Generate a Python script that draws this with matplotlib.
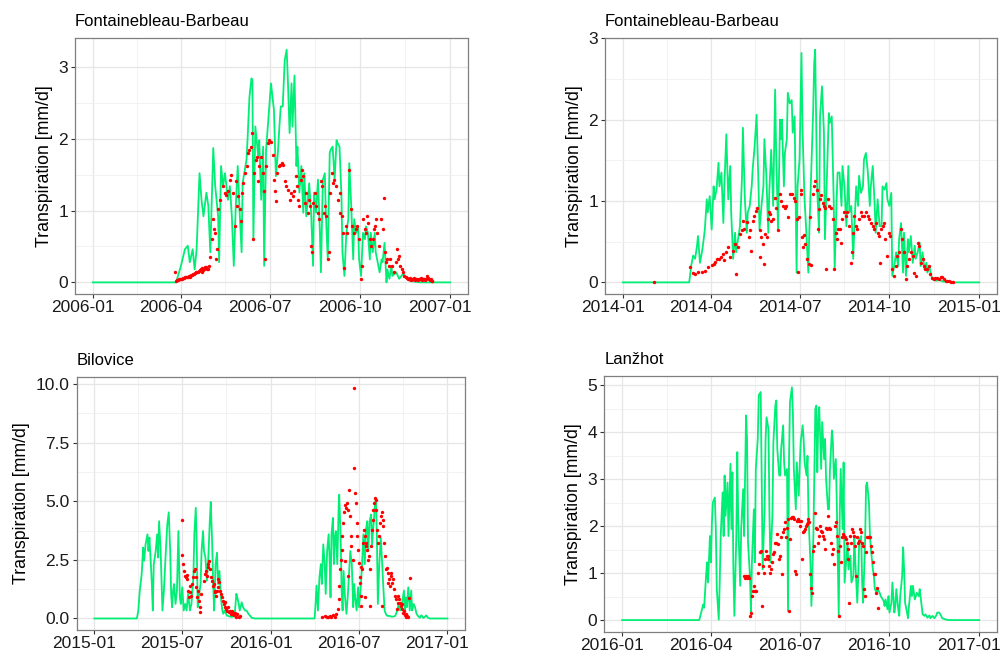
import matplotlib
matplotlib.use("Agg")
import matplotlib.pyplot as plt
import matplotlib.transforms as mtransforms
import pandas as pd

plt.rcParams['font.family'] = ['Liberation Sans', 'DejaVu Sans']

# ---------------- Panel 1: Fontainebleau-Barbeau 2006 ----------------
fb06_origin = "2006-01-01"
fb06_sim_day = [0, 85, 90, 94, 97, 99, 102, 104, 106, 109, 111, 113, 116, 118, 120, 123, 125, 128, 129, 131,
                133, 135, 138, 140, 142, 144, 146, 148, 150, 152, 153, 157, 158, 160, 162, 163, 164, 166, 169, 170,
                172, 174, 175, 177, 180, 182, 185, 187, 189, 191, 192, 194, 196, 198, 199, 201, 203, 204, 206, 208,
                209, 211, 213, 215, 216, 218, 220, 221, 223, 225, 226, 228, 230, 232, 233, 235, 237, 238, 240, 242,
                243, 245, 247, 249, 250, 252, 254, 255, 257, 259, 261, 262, 264, 266, 267, 269, 271, 272, 274, 276,
                278, 279, 281, 283, 284, 286, 288, 289, 291, 293, 295, 296, 298, 300, 301, 303, 305, 306, 310, 313,
                317, 320, 324, 329, 334, 365]
fb06_sim_val = [0, 0, 0.23, 0.46, 0.51, 0.28, 0.46, 0.18, 0.46, 1.52, 1.15, 0.92, 1.25, 1.06, 0.42, 1.87, 1.34, 0.92, 0.28, 1.62,
                1.34, 1.52, 1.15, 1.34, 0.92, 0.23, 1.06, 1.62, 0.97, 0.42, 1.38, 1.71, 1.98, 2.58, 2.84, 2.82, 0.6, 2.17, 1.75, 1.98,
                1.15, 1.89, 0.23, 1.85, 2.40, 2.77, 2.40, 1.48, 1.80, 2.26, 2.45, 2.45, 3.09, 3.24, 2.91, 2.08, 2.77, 2.17, 2.88, 1.62,
                1.89, 1.25, 1.62, 0.97, 1.52, 0.92, 1.20, 1.38, 0.97, 0.23, 1.25, 0.97, 1.43, 0.69, 0.14, 1.43, 1.52, 0.97, 0.32, 1.80,
                1.85, 1.89, 1.43, 1.98, 1.94, 1.89, 1.20, 0.42, 0.09, 0.69, 0.88, 1.66, 1.06, 0.32, 0.88, 0.69, 0.78, 0.32, 0.09, 0.69,
                0.60, 0.78, 0.69, 0.32, 0.69, 0.42, 0.69, 0.42, 0.28, 0.14, 0.32, 0.28, 0.55, 0.0, 0.18, 0.05, 0.23, 0.09, 0.14, 0.05,
                0.12, 0.07, 0.02, 0.01, 0.0, 0.0]
fb06_obs_day = [84, 85, 86, 87, 88, 89, 90, 91, 92, 93, 94, 95, 96, 97, 98, 99, 100, 101, 102, 103,
                104, 105, 106, 107, 108, 109, 110, 111, 112, 113, 114, 115, 116, 117, 118, 119,
                120, 122, 123, 124, 125, 126, 127, 128, 130, 133, 135, 136, 138, 140, 141, 143, 145, 146, 147, 148,
                150, 151, 152, 153, 155, 157, 158, 160, 162, 163, 164, 165, 167, 168, 169, 170, 172, 174, 175, 176,
                177, 179, 180, 182, 184, 185, 186, 187, 188, 190, 191, 193, 194, 196, 197, 199, 201, 202, 204, 206,
                208, 209, 210, 211, 213, 214, 215, 217, 218, 220, 221, 222, 223, 224, 225, 227, 228, 230, 231, 233,
                234, 236, 237, 238, 240, 241, 242, 244, 245, 246, 248, 250, 252, 253, 255, 256, 257, 259, 260, 262,
                264, 265, 267, 269, 270, 272, 274, 275, 276, 278, 279, 280, 281, 283, 284, 286, 287, 288, 289, 290,
                292, 294, 296, 297, 298, 299, 301, 303, 304, 306, 308, 310, 311, 312, 313, 314, 316, 317, 318, 320,
                321, 322, 323, 324, 325, 326, 327, 328, 329, 330, 331, 332, 333, 334, 335, 336, 337, 338, 339, 340,
                341, 342, 343, 344, 345, 346, 347]
fb06_obs_val = [0.15, 0.02, 0.03, 0.03, 0.04, 0.04, 0.05, 0.05, 0.06, 0.06, 0.07, 0.07, 0.08, 0.08, 0.09, 0.08, 0.10, 0.10, 0.11, 0.12,
                0.13, 0.14, 0.15, 0.14, 0.16, 0.17, 0.18, 0.15, 0.20, 0.17, 0.19, 0.21, 0.22, 0.19, 0.18, 0.23,
                0.35, 0.61, 0.88, 0.74, 0.69, 0.32, 0.46, 1.02, 1.15, 1.34, 1.25, 1.22, 1.27, 1.43, 1.50, 1.25, 0.78, 1.41, 1.06, 1.20,
                1.02, 0.85, 1.25, 1.39, 1.52, 1.62, 1.80, 1.85, 1.89, 2.08, 0.61, 1.52, 1.71, 1.75, 1.41, 1.62, 1.75, 1.52, 1.27, 0.32,
                1.62, 1.94, 1.98, 1.96, 1.78, 1.43, 1.27, 1.13, 1.52, 1.62, 1.64, 1.66, 1.64, 1.41, 1.34, 1.29, 1.15, 1.25, 1.20, 1.27,
                1.48, 1.34, 1.15, 1.06, 1.43, 1.57, 1.48, 1.11, 1.25, 0.97, 1.15, 1.06, 0.51, 0.42, 1.11, 1.25, 1.06, 0.97, 0.88, 1.41,
                1.34, 0.97, 1.06, 0.92, 0.32, 0.42, 1.25, 1.52, 1.38, 1.43, 1.34, 1.15, 1.25, 0.97, 0.92, 0.69, 0.20, 0.78, 0.69, 1.57,
                1.02, 0.78, 0.69, 0.74, 0.78, 0.60, 0.05, 0.23, 0.88, 0.74, 0.69, 0.92, 0.83, 0.60, 0.51, 0.60, 0.74, 0.78, 0.88, 0.69,
                0.51, 0.88, 0.74, 1.18, 0.42, 0.28, 0.32, 0.23, 0.32, 0.23, 0.14, 0.28, 0.46, 0.32, 0.37, 0.23, 0.18, 0.14, 0.09, 0.07,
                0.06, 0.05, 0.04, 0.06, 0.03, 0.05, 0.04, 0.06, 0.03, 0.05, 0.04, 0.03, 0.05, 0.04, 0.06, 0.03, 0.04, 0.05, 0.03, 0.04,
                0.09, 0.06, 0.04, 0.03, 0.05, 0.02, 0.02]
fb06_xticks = ["2006-01", "2006-04", "2006-07", "2006-10", "2007-01"]
fb06_yticks = [0, 1, 2, 3]
fb06_ylabels = ["0", "1", "2", "3"]

# ---------------- Panel 2: Fontainebleau-Barbeau 2014 ----------------
fb14_origin = "2014-01-01"
fb14_sim_day = [0, 68, 69, 70, 72, 74, 76, 77, 79, 81, 82, 84, 86, 87, 89, 91, 93, 94, 96, 98,
                99, 101, 103, 104, 106, 108, 110, 111, 113, 115, 116, 118, 120, 122, 123, 125, 127, 128, 130, 132,
                133, 135, 137, 139, 140, 142, 144, 145, 147, 149, 150, 152, 154, 156, 157, 159, 161, 162, 163, 165,
                166, 168, 169, 171, 173, 174, 176, 178, 179, 181, 183, 184, 186, 188, 190, 191, 193, 195, 196, 197,
                199, 201, 202, 204, 206, 207, 209, 211, 212, 214, 216, 217, 219, 220, 222, 224, 225, 227, 229, 231,
                232, 234, 236, 237, 239, 241, 242, 244, 246, 247, 249, 251, 253, 254, 256, 258, 259, 261, 263, 265,
                266, 268, 270, 271, 273, 275, 276, 278, 280, 282, 283, 285, 287, 288, 290, 292, 293, 295, 297, 299,
                300, 302, 304, 305, 307, 309, 311, 312, 314, 316, 317, 321, 324, 328, 333, 338, 365]
fb14_sim_val = [0, 0, 0.10, 0.20, 0.33, 0.29, 0.45, 0.57, 0.24, 0.37, 0.45, 0.65, 1.02, 0.86, 1.06, 0.65, 1.18, 1.02, 1.14, 1.47,
                1.18, 1.35, 0.73, 1.18, 1.82, 1.02, 1.43, 0.86, 0.29, 0.61, 0.37, 0.53, 0.69, 1.27, 1.90, 1.02, 0.61, 0.86, 0.94, 1.18,
                1.39, 1.67, 2.06, 1.18, 0.65, 0.94, 1.18, 1.76, 1.31, 0.61, 1.10, 1.63, 0.94, 2.37, 1.63, 0.65, 2.00, 1.76, 2.00, 1.18,
                1.59, 1.76, 2.33, 2.20, 2.24, 1.84, 2.04, 0.12, 1.18, 1.51, 2.82, 1.92, 1.06, 0.61, 0.12, 0.61, 1.35, 2.12, 2.69, 2.86,
                1.18, 0.61, 2.04, 2.41, 1.84, 0.53, 1.27, 2.08, 1.96, 2.04, 1.02, 0.16, 1.02, 1.35, 1.35, 0.94, 1.43, 1.18, 0.69, 1.43,
                0.86, 0.94, 0.29, 0.61, 1.18, 0.94, 1.31, 1.10, 1.18, 1.51, 1.59, 1.35, 0.94, 1.18, 1.43, 0.94, 0.61, 1.02, 0.69, 0.69,
                1.18, 1.14, 1.22, 1.02, 0.94, 1.10, 0.08, 0.20, 0.37, 0.20, 0.53, 0.73, 0.12, 0.61, 0.08, 0.53, 0.37, 0.57, 0.24, 0.45,
                0.29, 0.37, 0.49, 0.20, 0.37, 0.16, 0.24, 0.12, 0.20, 0.08, 0.04, 0.02, 0.03, 0.01, 0.01, 0, 0]
fb14_obs_day = [32, 69, 72, 74, 77, 81, 84, 87, 91, 93, 94, 96, 99, 101, 103, 104, 106, 108, 110, 113,
                115, 116, 118, 120, 122, 123, 124, 127, 129, 130, 131, 133, 134, 136, 137, 140, 141, 142, 144, 145,
                146, 148, 149, 150, 151, 152, 154, 156, 157, 159, 161, 162, 164, 166, 167, 169, 171, 173, 175, 176,
                178, 179, 180, 182, 183, 184, 185, 186, 187, 189, 191, 192, 193, 195, 196, 197, 199, 200, 201, 202,
                203, 205, 206, 207, 208, 210, 211, 213, 215, 216, 218, 219, 220, 222, 223, 225, 227, 229, 230, 232,
                234, 235, 236, 237, 239, 240, 242, 244, 245, 247, 249, 251, 252, 254, 256, 257, 259, 261, 262, 263,
                264, 266, 268, 269, 271, 273, 274, 276, 278, 280, 281, 283, 285, 286, 288, 290, 291, 293, 295, 297,
                298, 300, 302, 303, 305, 307, 308, 310, 312, 314, 315, 317, 319, 320, 322, 324, 326, 327, 329, 331,
                332, 334, 336, 338]
fb14_obs_val = [0.00, 0.19, 0.11, 0.10, 0.13, 0.13, 0.14, 0.19, 0.21, 0.23, 0.25, 0.29, 0.29, 0.31, 0.35, 0.27, 0.37, 0.43, 0.31, 0.39,
                0.47, 0.10, 0.43, 0.60, 0.64, 0.76, 0.66, 0.74, 0.56, 0.64, 0.39, 0.76, 0.82, 0.88, 0.92, 0.31, 0.64, 0.56, 0.47, 0.23,
                0.60, 0.56, 0.78, 0.86, 0.84, 0.76, 0.78, 1.04, 0.92, 0.64, 1.09, 1.00, 0.94, 0.92, 0.94, 0.80, 1.09, 1.09, 1.04, 1.00,
                0.78, 0.13, 0.80, 1.13, 1.09, 0.56, 0.43, 0.58, 0.47, 0.29, 0.23, 0.80, 0.21, 1.09, 1.19, 1.25, 1.14, 0.65, 0.90, 1.02,
                1.08, 0.98, 0.94, 0.92, 0.16, 1.02, 0.94, 0.92, 0.78, 0.16, 0.61, 0.53, 0.65, 0.65, 0.49, 0.78, 0.86, 0.82, 0.86, 0.69,
                0.24, 0.37, 0.61, 0.82, 0.69, 0.65, 0.78, 0.86, 0.82, 0.82, 0.86, 0.82, 0.78, 0.73, 0.69, 0.65, 0.73, 0.61, 0.57, 0.24,
                0.65, 0.69, 0.73, 0.53, 0.33, 0.61, 0.57, 0.16, 0.08, 0.20, 0.33, 0.37, 0.65, 0.53, 0.37, 0.04, 0.20, 0.29, 0.37, 0.33,
                0.12, 0.08, 0.49, 0.45, 0.24, 0.29, 0.20, 0.16, 0.16, 0.20, 0.10, 0.05, 0.04, 0.05, 0.05, 0.04, 0.06, 0.07, 0.04, 0.02,
                0.02, 0.02, 0.01, 0.01]
fb14_xticks = ["2014-01", "2014-04", "2014-07", "2014-10", "2015-01"]
fb14_yticks = [0, 1, 2, 3]
fb14_ylabels = ["0", "1", "2", "3"]

# ---------------- Panel 3: Bilovice 2015-2016 ----------------
bil_origin = "2015-01-01"
bil_sim_day = [0, 88, 91, 94, 98, 101, 103, 106, 110, 112, 114, 117, 119, 121, 123, 127, 130, 132, 134, 137,
               139, 141, 144, 148, 151, 154, 157, 159, 161, 163, 165, 168, 171, 174, 177, 179, 182, 185, 188, 191,
               194, 198, 201, 205, 207, 210, 212, 214, 217, 220, 222, 225, 227, 230, 233, 236, 239, 241, 244, 246,
               248, 251, 254, 256, 259, 262, 265, 267, 270, 274, 277, 281, 284, 287, 291, 294, 296, 299, 301, 305,
               308, 312, 315, 319, 322, 326, 332, 456, 458, 460, 463, 466, 469, 471, 474, 477, 479, 482, 485, 487,
               489, 491, 494, 496, 498, 500, 503, 506, 507, 510, 512, 514, 516, 519, 522, 525, 527, 530, 533, 536,
               538, 540, 543, 546, 548, 551, 554, 557, 560, 562, 565, 567, 570, 573, 575, 578, 581, 583, 585, 587,
               590, 593, 596, 598, 601, 604, 607, 611, 615, 619, 623, 627, 630, 633, 636, 639, 641, 643, 645, 647,
               650, 653, 656, 658, 661, 664, 667, 670, 674, 677, 681, 684, 687, 691, 694, 731]
bil_sim_val = [0, 0, 0.34, 1.19, 1.89, 3.02, 2.46, 3.16, 3.59, 2.88, 3.45, 2.32, 1.47, 0.34, 2.32, 2.88, 3.59, 2.60, 4.15, 3.02,
               1.75, 0.34, 1.19, 2.88, 4.01, 4.53, 2.88, 1.05, 0.48, 1.19, 1.47, 0.62, 1.19, 3.73, 0.90, 0.62, 1.33, 0.34, 0.62, 0.34,
               1.05, 0.34, 0.62, 1.75, 3.59, 4.72, 3.16, 0.48, 1.05, 1.47, 2.88, 3.73, 2.88, 2.60, 1.61, 2.60, 4.15, 4.97, 3.16, 1.47,
               0.34, 2.32, 2.81, 1.47, 2.03, 0.90, 0.34, 0.20, 0.34, 0.13, 0.11, 0.08, 0.07, 0.08, 0.27, 1.05, 0.90, 0.62, 0.34, 0.69,
               0.48, 0.34, 0.34, 0.20, 0.13, 0.03, 0, 0, 0.62, 1.40, 0.34, 1.75, 2.32, 1.47, 3.16, 2.32, 1.05, 2.88, 3.59, 2.60,
               0.90, 3.59, 4.29, 2.32, 3.45, 3.73, 2.32, 4.86, 5.28, 3.45, 1.19, 0.34, 2.03, 0.90, 0.20, 1.05, 1.75, 2.88, 2.32, 0.48,
               1.47, 0.90, 0.34, 1.33, 0.48, 1.19, 2.18, 3.59, 2.32, 3.73, 4.15, 2.88, 4.15, 4.43, 3.16, 4.01, 4.86, 5.08, 3.45, 0.62,
               2.32, 3.45, 2.32, 1.47, 0.34, 0.17, 0.11, 0.11, 0.08, 0.08, 0.11, 0.34, 0.62, 0.34, 0.48, 0.90, 1.19, 0.34, 0.90, 0.48,
               1.33, 0.34, 1.19, 0.34, 0.62, 0.48, 0.20, 0.11, 0.03, 0.14, 0.03, 0.06, 0.13, 0.03, 0, 0]
bil_obs_day = [182, 182, 184, 186, 187, 189, 191, 192, 194, 196, 198, 199, 201, 203, 205, 207, 208, 210, 211, 213,
               214, 216, 218, 219, 221, 228, 229, 231, 233, 235, 236, 238, 240, 242, 243, 245, 247, 249, 250, 252,
               254, 256, 257, 259, 261, 263, 264, 266, 268, 270, 271, 273, 275, 277, 278, 280, 282, 284, 286, 288,
               290, 292, 294, 296, 299, 302,
               472, 477, 481, 484, 488, 491, 495, 498, 501, 504, 506, 507, 508, 510, 512, 513, 515, 517, 519, 522,
               523, 526, 528, 530, 532, 535, 537, 537, 539, 541, 543, 544, 546, 548, 550, 552, 553, 555, 557, 558,
               560, 562, 563, 565, 567, 569, 570, 572, 574, 576, 577, 579, 581, 583, 584, 586, 588, 590, 591, 593,
               595, 597, 598, 600, 601, 603, 605, 607, 608, 610, 612, 614, 615, 617, 619, 621, 622, 624, 626, 628,
               629, 631, 632, 635, 636, 638, 639, 641, 643, 645, 646, 648, 650, 652, 653,
               519, 526, 531, 550, 553, 560, 570, 596]
bil_obs_val = [4.18, 2.71, 2.32, 2.03, 1.82, 1.75, 1.86, 1.68, 1.19, 0.90, 1.40, 1.12, 0.97, 1.47, 1.75, 2.03, 2.10, 1.75, 1.33, 0.90,
               1.19, 0.76, 0.27, 0.48, 1.05, 1.61, 1.89, 2.03, 1.82, 2.18, 2.32, 2.46, 2.10, 1.75, 1.61, 1.40, 1.47, 1.19, 1.12, 0.97,
               1.19, 1.33, 1.68, 1.54, 1.19, 1.05, 0.90, 0.76, 0.62, 0.48, 0.69, 0.41, 0.34, 0.48, 0.27, 0.34, 0.20, 0.31, 0.17, 0.25,
               0.13, 0.23, 0.08, 0.17, 0.06, 0.11,
               0.08, 0.11, 0.08, 0.06, 0.11, 0.08, 0.14, 0.08, 0.18, 0.40, 0.82, 1.38, 2.09, 2.51, 2.94, 3.50, 4.07, 4.56, 4.84, 4.70,
               4.92, 4.63, 5.48, 4.35, 3.50, 2.51, 6.40, 9.82, 5.34, 4.92, 4.07, 3.50, 2.94, 2.37, 1.53, 0.96, 0.54, 2.09, 3.22, 3.79,
               3.50, 3.08, 3.22, 2.94, 2.51, 2.66, 2.09, 3.08, 3.79, 4.21, 4.63, 4.92, 5.13, 5.06, 4.63, 3.79, 3.22, 3.50, 4.07, 4.35,
               4.56, 4.21, 3.93, 3.22, 2.66, 2.09, 2.16, 1.95, 1.53, 1.67, 1.38, 1.95, 1.81, 1.53, 1.67, 1.24, 0.96, 0.82, 0.40, 0.68,
               0.96, 0.82, 0.68, 0.54, 0.61, 0.40, 0.25, 0.32, 0.14, 0.08, 0.18, 0.11, 0.08, 0.89, 1.74,
               2.46, 1.82, 3.09, 1.75, 2.18, 0.90, 0.55, 0.55]
bil_xticks = ["2015-01", "2015-07", "2016-01", "2016-07", "2017-01"]
bil_yticks = [0, 2.5, 5, 7.5, 10]
bil_ylabels = ["0.0", "2.5", "5.0", "7.5", "10.0"]

# ---------------- Panel 4: Lanzhot 2016 ----------------
lan_origin = "2016-01-01"
lan_sim_day = [0, 79, 81, 83, 84, 86, 87, 88, 90, 91, 92, 93, 95, 96, 97, 99, 100, 101, 103, 104,
               105, 106, 108, 109, 111, 112, 113, 114, 115, 117, 118, 119, 121, 122, 124, 125, 127, 128, 129, 131,
               132, 133, 135, 136, 137, 139, 140, 142, 143, 144, 146, 147, 148, 150, 151, 152, 154, 155, 157, 158,
               159, 161, 162, 163, 165, 166, 167, 169, 170, 171, 172, 174, 175, 176, 178, 179, 181, 182, 183, 185,
               186, 187, 189, 190, 191, 193, 194, 196, 197, 198, 199, 200, 201, 202, 204, 205, 207, 208, 209, 211,
               212, 213, 215, 216, 217, 219, 220, 222, 223, 224, 226, 227, 228, 230, 231, 232, 234, 235, 237, 238,
               239, 241, 242, 243, 245, 246, 247, 249, 250, 251, 253, 254, 255, 257, 258, 259, 261, 262, 264, 265,
               266, 268, 269, 270, 272, 273, 274, 276, 277, 279, 280, 281, 283, 284, 285, 287, 288, 289, 290, 292,
               293, 294, 296, 297, 298, 300, 301, 302, 304, 305, 307, 308, 310, 311, 313, 315, 316, 318, 320, 322,
               323, 325, 327, 328, 332, 335, 366]
lan_sim_val = [0, 0, 0.16, 0.33, 0.26, 0.94, 1.23, 0.80, 1.79, 1.23, 2.08, 2.51, 2.61, 1.94, 0.66, 0.01, 0.80, 1.79, 2.72, 1.79,
               3.08, 2.22, 2.93, 1.79, 3.33, 1.94, 3.15, 1.08, 0.09, 1.79, 3.58, 2.08, 0.73, 1.94, 2.79, 1.79, 4.36, 3.86, 1.65, 0.94,
               0.16, 1.23, 2.36, 1.23, 3.22, 3.86, 4.79, 4.86, 3.08, 1.08, 2.36, 3.86, 4.32, 4.07, 2.22, 1.23, 2.22, 3.79, 4.57, 4.68,
               3.65, 3.08, 3.08, 3.65, 4.15, 3.36, 3.08, 3.22, 0.19, 3.36, 4.64, 4.96, 4.43, 3.22, 2.36, 3.36, 2.65, 3.29, 3.79, 4.15,
               3.86, 3.36, 3.08, 3.50, 2.22, 1.23, 0.30, 1.79, 3.15, 4.50, 4.57, 3.15, 4.22, 4.54, 3.22, 4.22, 3.43, 3.86, 3.01, 2.36,
               2.36, 3.22, 4.04, 3.79, 3.01, 3.43, 2.51, 0.09, 2.22, 3.22, 1.94, 3.36, 0.80, 1.37, 1.65, 1.08, 1.37, 0.80, 0.94, 1.79,
               1.23, 0.37, 0.94, 1.72, 1.79, 0.80, 0.37, 1.65, 2.86, 2.93, 2.51, 1.79, 1.51, 1.08, 0.94, 0.66, 0.58, 0.66, 0.58, 0.51,
               0.48, 0.41, 0.30, 0.44, 0.23, 0.51, 0.16, 0.37, 0.80, 0.16, 0.30, 0.66, 0.23, 0.09, 0.51, 0.94, 1.55, 1.08, 0.37, 0.16,
               0.04, 0.30, 0.73, 0.51, 0.73, 0.44, 0.51, 0.58, 0.51, 0.66, 0.30, 0.12, 0.09, 0.12, 0.05, 0.10, 0.04, 0.09, 0.04, 0.10,
               0.16, 0.16, 0.09, 0.04, 0.01, 0, 0]
lan_obs_day = [125, 126, 127, 128, 129, 130, 131, 132, 133, 134, 135, 136, 137, 139, 140, 141, 142, 143, 144, 145,
               146, 147, 148, 149, 150, 151, 152, 153, 154, 155, 156, 157, 158, 159, 160, 161, 162, 163, 164, 165,
               166, 167, 168, 169, 170, 171, 172, 173, 174, 175, 176, 177, 178, 179, 180, 181, 182, 183, 184, 185,
               186, 187, 188, 189, 190, 191, 192, 193, 194, 195, 196, 197, 198, 199, 200, 201, 202, 203, 204, 205,
               206, 207, 208, 209, 210, 211, 212, 213, 214, 215, 216, 217, 218, 219, 220, 221, 222, 223, 224, 225,
               226, 227, 228, 229, 230, 231, 232, 233, 234, 235, 236, 237, 238, 239, 240, 241, 242, 243, 244, 245,
               246, 247, 248, 249, 250, 251, 252, 253, 254, 255, 256, 257, 258, 259, 260, 261, 262]
lan_obs_val = [0.94, 0.90, 0.94, 0.90, 0.94, 0.90, 0.09, 0.14, 0.51, 0.62, 0.73, 0.62, 0.62, 1.01, 1.19, 1.44, 1.47, 0.30, 1.15, 1.01,
               1.30, 1.47, 1.37, 1.37, 1.30, 1.15, 1.01, 1.08, 1.23, 1.40, 1.44, 1.65, 1.65, 1.83, 1.62, 1.30, 1.37, 1.76, 0.98, 1.87,
               1.94, 2.08, 1.76, 1.97, 2.15, 0.19, 1.72, 2.17, 2.20, 2.19, 2.15, 1.05, 0.99, 2.12, 2.15, 2.12, 2.01, 2.12, 1.30, 1.87,
               1.90, 1.94, 2.01, 2.04, 2.08, 2.15, 2.09, 0.98, 0.69, 0.58, 1.47, 1.58, 2.29, 1.97, 1.94, 1.65, 1.79, 2.01, 1.90, 1.87,
               1.79, 1.72, 1.51, 1.97, 1.94, 2.22, 1.97, 1.94, 1.65, 1.40, 1.51, 1.19, 2.01, 2.08, 1.79, 1.47, 0.09, 1.58, 1.23, 1.76,
               1.83, 1.79, 1.76, 1.72, 1.65, 1.51, 1.30, 0.37, 1.79, 1.65, 1.94, 1.87, 1.79, 1.58, 0.94, 1.76, 1.65, 1.69, 1.94, 1.87,
               1.65, 1.58, 0.66, 0.51, 1.44, 1.76, 1.76, 1.76, 1.76, 1.58, 1.44, 1.23, 0.99, 0.98, 0.58, 0.69, 0.26]
lan_xticks = ["2016-01", "2016-04", "2016-07", "2016-10", "2017-01"]
lan_yticks = [0, 1, 2, 3, 4, 5]
lan_ylabels = ["0", "1", "2", "3", "4", "5"]

titles = ["Fontainebleau-Barbeau", "Fontainebleau-Barbeau", "Bilovice", "Lanžhot"]
ylabel_text = "Transpiration [mm/d]"

SIM_COLOR = "#00EE76"
OBS_COLOR = "#FF0000"

panels = [
    (titles[0], fb06_origin, fb06_sim_day, fb06_sim_val, fb06_obs_day, fb06_obs_val, fb06_xticks, fb06_yticks, fb06_ylabels,
     [0.0747, 0.5525, 0.3914, 0.3896]),
    (titles[1], fb14_origin, fb14_sim_day, fb14_sim_val, fb14_obs_day, fb14_obs_val, fb14_xticks, fb14_yticks, fb14_ylabels,
     [0.6026, 0.5525, 0.3904, 0.3896]),
    (titles[2], bil_origin, bil_sim_day, bil_sim_val, bil_obs_day, bil_obs_val, bil_xticks, bil_yticks, bil_ylabels,
     [0.0764, 0.0411, 0.3868, 0.3855]),
    (titles[3], lan_origin, lan_sim_day, lan_sim_val, lan_obs_day, lan_obs_val, lan_xticks, lan_yticks, lan_ylabels,
     [0.6019, 0.0385, 0.3912, 0.3897]),
]

fig = plt.figure(figsize=(10.04, 6.57), dpi=100)

for (title, origin, sd, sv, od, ov, xt, yt, yl, pos) in panels:
    assert len(sd) == len(sv), (title, len(sd), len(sv))
    assert len(od) == len(ov), (title, len(od), len(ov))
    ax = fig.add_axes(pos)
    t0 = pd.Timestamp(origin)
    sim_dates = t0 + pd.to_timedelta(sd, unit="D")
    obs_dates = t0 + pd.to_timedelta(od, unit="D")
    ax.plot(sim_dates, sv, color=SIM_COLOR, lw=1.3, zorder=3, solid_joinstyle="round")
    ax.scatter(obs_dates, ov, s=6, color=OBS_COLOR, linewidths=0, zorder=4)

    # limits with ggplot-like 5% expansion
    xmin, xmax = sim_dates.min(), sim_dates.max()
    pad = (xmax - xmin) * 0.05
    ax.set_xlim(xmin - pad, xmax + pad)
    ymax = max(max(sv), max(ov))
    ax.set_ylim(-0.05 * ymax, 1.05 * ymax)

    xt_dates = [pd.Timestamp(s + "-01") for s in xt]
    ax.set_xticks(xt_dates)
    ax.set_xticklabels(xt)
    minor_x = [xt_dates[i] + (xt_dates[i + 1] - xt_dates[i]) / 2 for i in range(len(xt_dates) - 1)]
    ax.set_xticks(minor_x, minor=True)
    ax.set_yticks(yt)
    ax.set_yticklabels(yl)
    minor_y = [(yt[i] + yt[i + 1]) / 2 for i in range(len(yt) - 1)]
    ax.set_yticks(minor_y, minor=True)

    ax.grid(which="major", color="#E6E6E6", lw=0.9, zorder=0)
    ax.grid(which="minor", color="#F0F0F0", lw=0.6, zorder=0)
    ax.set_axisbelow(True)

    for sp in ax.spines.values():
        sp.set_color("#7F7F7F")
        sp.set_linewidth(0.9)

    ax.tick_params(which="major", length=3.0, width=0.8, color="#333333", labelsize=12.5,
                   labelcolor="#1A1A1A")
    ax.tick_params(axis="x", which="major", pad=1.5)
    ax.tick_params(axis="y", which="major", pad=2.0)
    ax.tick_params(which="minor", length=0)

    off = mtransforms.ScaledTranslation(-10 / 100, 0, fig.dpi_scale_trans)
    for lab in ax.get_xticklabels():
        lab.set_transform(lab.get_transform() + off)

    ax.set_ylabel(ylabel_text, fontsize=12.8, color="#000000", labelpad=4)
    ax.set_title(title, loc="left", fontsize=12, pad=8.5, color="#000000")

fig.savefig("out.png", dpi=100)
